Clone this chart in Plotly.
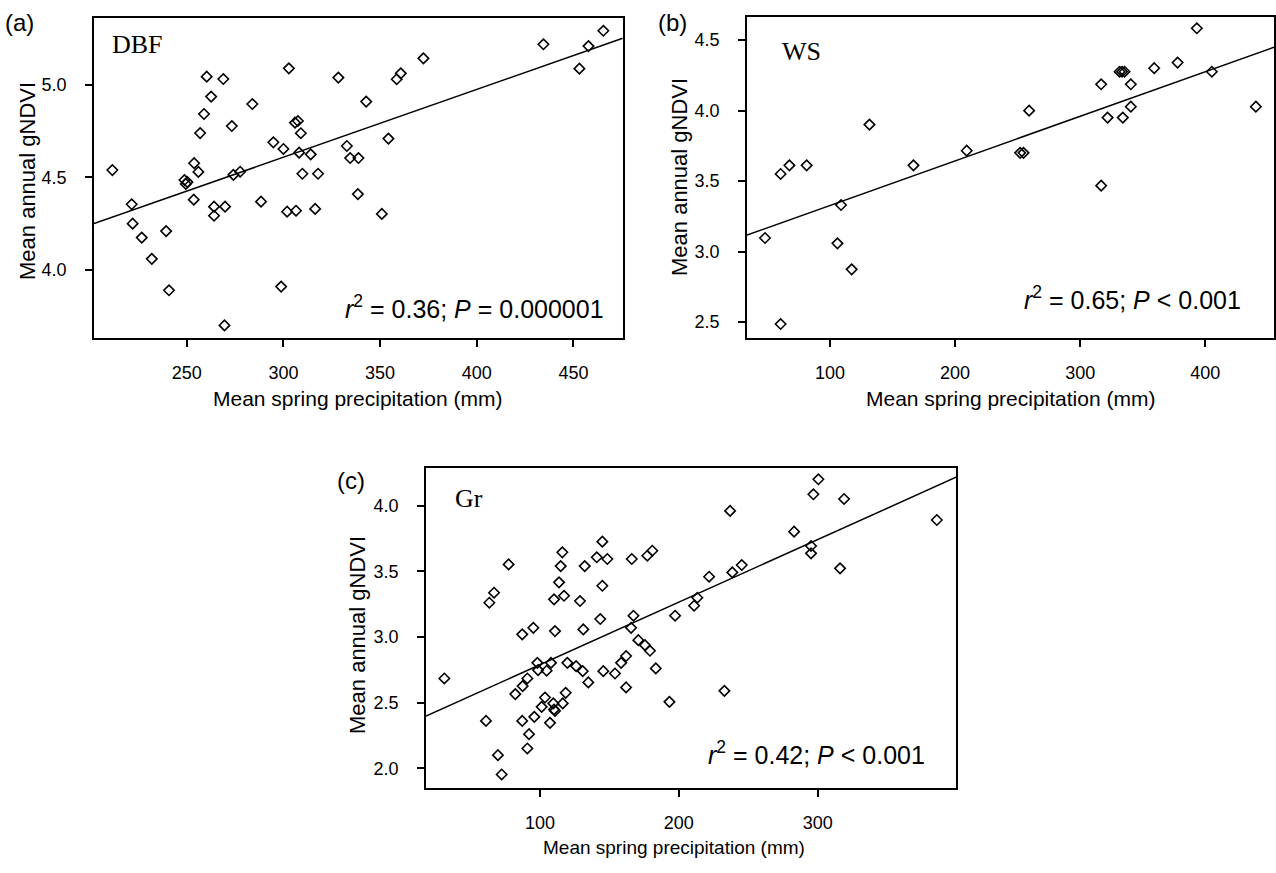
import plotly.graph_objects as go

W, H = 1276, 873

# ---------------- data ----------------
# (a) DBF
dbf_precip = [211.5, 221.5, 222, 226.7, 231.9, 239.3, 240.8, 248.8, 249.5, 250.3,
              253.6, 253.8, 256, 256.9, 258.9, 260.3, 262.6, 264.1, 264.1, 268.9,
              269.8, 269.5, 273.3, 274.1, 277.6, 283.9, 288.4, 294.8, 298.8, 300,
              301.9, 302.8, 306.5, 306, 307.5, 309, 308.1, 309.8, 314.1, 316.4,
              317.9, 328.4, 332.8, 334.5, 338.8, 342.8, 338.5, 354.3, 350.9, 358.6,
              360.7, 372.4, 434.5, 453.1, 457.8, 465.5]
dbf_gndvi = [4.54, 4.355, 4.25, 4.175, 4.06, 4.21, 3.89, 4.486, 4.465, 4.475,
             4.38, 4.577, 4.53, 4.74, 4.843, 5.045, 4.937, 4.342, 4.293, 5.032,
             4.342, 3.70, 4.778, 4.514, 4.531, 4.897, 4.369, 4.69, 3.91, 4.654,
             4.315, 5.09, 4.32, 4.796, 4.805, 4.739, 4.634, 4.52, 4.625, 4.33,
             4.52, 5.04, 4.67, 4.605, 4.605, 4.91, 4.41, 4.71, 4.303, 5.031,
             5.063, 5.144, 5.22, 5.088, 5.21, 5.293]
dbf_fit = [3.510, 0.003664]   # intercept, slope
dbf_stats = "<i>r</i><sup>2</sup> = 0.36; <i>P</i> = 0.000001"

# (b) WS
ws_precip = [48, 60.5, 67.5, 81.3, 60.5, 108.8, 105.9, 117.3, 131.5, 166.7,
             209.3, 252, 254.7, 259.2, 316.8, 316.8, 321.9, 331.5, 333.5, 335.5,
             334.1, 340.5, 340.5, 359.2, 377.9, 393.3, 405.3, 440.5]
ws_gndvi = [3.096, 3.55, 3.611, 3.611, 2.486, 3.33, 3.058, 2.874, 3.90, 3.611,
            3.715, 3.70, 3.70, 3.999, 4.186, 3.467, 3.95, 4.275, 4.275, 4.275,
            3.95, 4.186, 4.027, 4.30, 4.34, 4.583, 4.275, 4.027]
ws_fit = [3.011, 0.00316]
ws_stats = "<i>r</i><sup>2</sup> = 0.65; <i>P</i> &lt; 0.001"

# (c) Gr
gr_precip = [31.1, 61.1, 63.5, 66.9, 69.7, 72.4, 77.4, 82.2, 87.2, 87.2,
             87.5, 90.9, 90.9, 92.1, 95.2, 95.9, 98.1, 98.6, 101.2, 103.6,
             104.8, 107.2, 107.9, 109.6, 110.1, 110.8, 110.1, 110.8, 113.7, 114.9,
             116.1, 116.4, 118.5, 117.3, 119.7, 126, 128.8, 130.8, 131.2, 132.2,
             134.8, 140.9, 143.4, 144.9, 144.9, 145.6, 148.5, 154, 158.4, 162,
             162, 166.1, 165.6, 167.3, 170.8, 175.6, 179.2, 177.3, 180.9, 183.4,
             193.2, 197.3, 211, 213.3, 221.8, 232.8, 236.9, 238.5, 245.3, 283,
             295.2, 295.2, 296.9, 300.5, 319, 316.1, 385.8]
gr_gndvi = [2.684, 2.361, 3.261, 3.337, 2.10, 1.953, 3.553, 2.565, 3.02, 2.361,
            2.626, 2.151, 2.684, 2.26, 3.07, 2.392, 2.803, 2.748, 2.468, 2.539,
            2.743, 2.346, 2.803, 2.494, 2.448, 2.437, 3.287, 3.045, 3.416, 3.54,
            3.645, 2.494, 2.575, 3.314, 2.803, 2.778, 3.274, 2.74, 3.058, 3.54,
            2.654, 3.607, 3.137, 3.726, 3.39, 2.74, 3.594, 2.722, 2.803, 2.855,
            2.616, 3.594, 3.07, 3.162, 2.976, 2.938, 2.895, 3.619, 3.657, 2.761,
            2.506, 3.162, 3.238, 3.299, 3.459, 2.59, 3.96, 3.492, 3.548, 3.802,
            3.693, 3.637, 4.087, 4.201, 4.051, 3.523, 3.891]
gr_fit = [2.312, 0.004766]
gr_stats = "<i>r</i><sup>2</sup> = 0.42; <i>P</i> &lt; 0.001"

panel_letters = ["(a)", "(b)", "(c)"]
cover_types = ["DBF", "WS", "Gr"]
x_title = "Mean spring precipitation (mm)"
y_title = "Mean annual gNDVI"

# ---------------- layout helpers ----------------
def fx(p):
    return p / W


def fy(p):
    return 1 - p / H


panels = [
    dict(x=dbf_precip, y=dbf_gndvi, fit=dbf_fit, stats=dbf_stats,
         box=(94, 622.7, 18, 338), xr=[202, 475.5], yr=[3.632, 5.362],
         xt=[250, 300, 350, 400, 450], yt=[4.0, 4.5, 5.0]),
    dict(x=ws_precip, y=ws_gndvi, fit=ws_fit, stats=ws_stats,
         box=(747, 1274, 17, 338), xr=[33.6, 455], yr=[2.387, 4.663],
         xt=[100, 200, 300, 400], yt=[2.5, 3.0, 3.5, 4.0, 4.5]),
    dict(x=gr_precip, y=gr_gndvi, fit=gr_fit, stats=gr_stats,
         box=(426, 956, 468, 788), xr=[17.9, 399.6], yr=[1.85, 4.287],
         xt=[100, 200, 300], yt=[2.0, 2.5, 3.0, 3.5, 4.0]),
]

fig = go.Figure()
annotations = []
tick_font = dict(family="Liberation Sans, Arial, sans-serif", size=18, color="black")
sans = "Liberation Sans, Arial, sans-serif"

# text placements (pixel)
letter_pos = [(19, 22), (672, 22), (351, 480)]
type_pos = [(110, 44), (780, 51), (453, 498)]
stats_pos = [(606, 307), (1243, 298), (927, 753)]
ytitle_pos = [(27, 181), (680, 177), (357, 635)]
xtitle_pos = [(357, 399), (1010, 399), (674, 847)]
xtitle_size = [21, 21, 19]

for i, p in enumerate(panels):
    n = "" if i == 0 else str(i + 1)
    xa, ya = "x" + n, "y" + n
    x0, x1, y0, y1 = p["box"]
    fig.add_trace(go.Scatter(
        x=p["x"], y=p["y"], mode="markers", xaxis=xa, yaxis=ya,
        marker=dict(symbol="diamond-open", size=8, color="black",
                    line=dict(width=1.6, color="black")),
        showlegend=False, cliponaxis=False))
    b0, b1 = p["fit"]
    lx = [p["xr"][0], p["xr"][1]]
    fig.add_trace(go.Scatter(
        x=lx, y=[b0 + b1 * v for v in lx], mode="lines", xaxis=xa, yaxis=ya,
        line=dict(color="black", width=1.5), showlegend=False))
    axis_common = dict(showline=True, linecolor="black", linewidth=1.6, mirror=True,
                       ticks="outside", ticklen=7, tickwidth=1.5, tickcolor="black",
                       showgrid=False, zeroline=False, tickfont=tick_font,
                       automargin=False)
    fig.update_layout(**{
        ("xaxis" + n): dict(domain=[fx(x0), fx(x1)], range=p["xr"], anchor=ya,
                            tickvals=p["xt"], ticklabelstandoff=11, **axis_common),
        ("yaxis" + n): dict(domain=[fy(y1), fy(y0)], range=p["yr"], anchor=xa,
                            tickvals=p["yt"], tickformat=".1f", ticklabelstandoff=15,
                            **axis_common),
    })
    annotations += [
        dict(text=panel_letters[i], x=fx(letter_pos[i][0]), y=fy(letter_pos[i][1]),
             xref="paper", yref="paper", showarrow=False, xanchor="center", yanchor="middle",
             font=dict(family=sans, size=24, color="black")),
        dict(text=cover_types[i], x=fx(type_pos[i][0]), y=fy(type_pos[i][1]),
             xref="paper", yref="paper", showarrow=False, xanchor="left", yanchor="middle",
             font=dict(family="Liberation Serif, Times New Roman, serif", size=26, color="black")),
        dict(text=p["stats"], x=fx(stats_pos[i][0]), y=fy(stats_pos[i][1]),
             xref="paper", yref="paper", showarrow=False, xanchor="right", yanchor="middle",
             font=dict(family=sans, size=25, color="black")),
        dict(text=y_title, x=fx(ytitle_pos[i][0]), y=fy(ytitle_pos[i][1]), textangle=-90,
             xref="paper", yref="paper", showarrow=False, xanchor="center", yanchor="middle",
             font=dict(family=sans, size=22, color="black")),
        dict(text=x_title, x=fx(xtitle_pos[i][0]), y=fy(xtitle_pos[i][1]),
             xref="paper", yref="paper", showarrow=False, xanchor="center", yanchor="middle",
             font=dict(family=sans, size=xtitle_size[i], color="black")),
    ]

fig.update_layout(width=W, height=H, margin=dict(l=0, r=0, t=0, b=0, autoexpand=False),
                  paper_bgcolor="white", plot_bgcolor="white",
                  annotations=annotations)

fig.write_html("out.html", config={"displayModeBar": False},
               post_script="document.body.style.margin='0px';")
